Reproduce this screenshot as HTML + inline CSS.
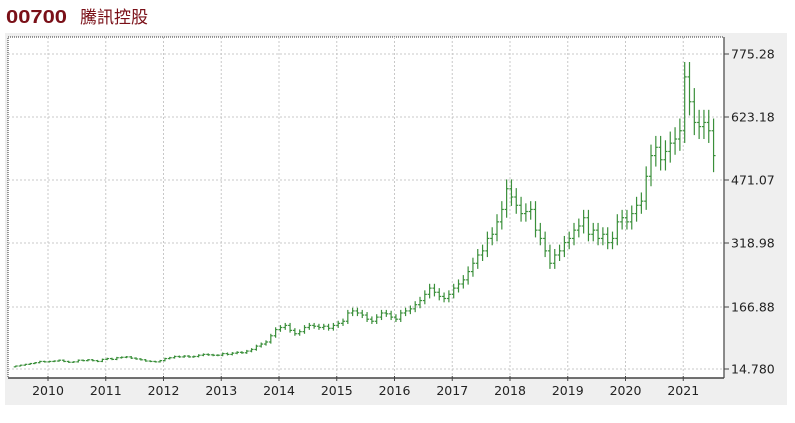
<!DOCTYPE html>
<html><head><meta charset="utf-8"><style>
body{margin:0;background:#fff;width:795px;height:418px;overflow:hidden;font-family:"Liberation Sans","Noto Sans CJK TC",sans-serif}
</style></head><body>
<svg id="s" width="795" height="418" xmlns="http://www.w3.org/2000/svg">
<text x="6" y="23" font-family="Liberation Sans, Noto Sans CJK TC, sans-serif" font-size="18" font-weight="bold" fill="#7a1018" textLength="61" lengthAdjust="spacingAndGlyphs">00700</text>
<text x="80" y="23" font-family="Noto Sans CJK TC, sans-serif" font-size="17" fill="#7a1018">騰訊控股</text>
<rect x="5" y="33" width="782" height="372" fill="#efefef"/>
<rect x="8" y="37" width="716" height="341" fill="#fff" stroke="#333" stroke-dasharray="1,1"/>
<g id="grid" stroke="#c8c8c8" stroke-dasharray="2,2" stroke-width="1"></g>
<g id="bars" stroke="#3a8f3a" stroke-width="1.2"></g>
<line x1="724" y1="37" x2="724" y2="378" stroke="#666" stroke-width="1.5"/>
<line x1="8" y1="378" x2="724" y2="378" stroke="#444" stroke-width="1.5"/>
<g id="lab" font-family="DejaVu Sans, sans-serif" font-size="12.5" fill="#222"></g>
</svg>
<script>
var ns="http://www.w3.org/2000/svg";
function el(p,t,a,txt){var e=document.createElementNS(ns,t);for(var k in a)e.setAttribute(k,a[k]);if(txt)e.textContent=txt;document.getElementById(p).appendChild(e);}
var yl=[["775.28",54],["623.18",117],["471.07",180],["318.98",243],["166.88",307],["14.780",369]];
yl.forEach(function(v){el("grid","line",{x1:8,x2:724,y1:v[1],y2:v[1]});el("lab","line",{x1:724,x2:729,y1:v[1],y2:v[1],stroke:"#444"});el("lab","text",{x:731,y:v[1]+4.5},v[0]);});
function X(t){return 48+(t-2010)*57.75;}
for(var y=2010;y<=2021;y++){var x=X(y);el("grid","line",{x1:x,x2:x,y1:37,y2:378});el("lab","line",{x1:x,x2:x,y1:376,y2:381,stroke:"#444"});el("lab","text",{x:x,y:395,"text-anchor":"middle"},""+y);}
function Y(v){return 369-(v-14.78)*63/152.1;}
var c=[22,24,26,28,30,33,
32,33,34,36,33,31,32,36,35,37,35,33,
38,40,38,42,43,44,41,39,37,34,33,32,
35,40,42,45,44,46,44,45,48,50,49,48,
48,52,50,53,55,54,58,62,70,75,80,95,
110,115,120,108,100,105,115,120,118,115,118,113,
120,125,130,150,155,150,145,135,130,140,150,148,
140,135,150,155,160,170,180,195,210,200,190,185,
195,210,220,230,250,270,290,300,330,340,370,400,
450,430,410,390,395,400,350,330,300,270,290,300,
320,330,350,360,380,340,350,330,340,320,330,370,
380,370,390,410,420,480,530,550,520,540,560,570,
590,720,660,610,600,610,590,530];
var prev=20;
c.forEach(function(v,i){var t=2009.4+(i+0.5)/12;var x=X(t);var o=prev;var hi=Math.min(Math.max(o,v)*1.05,775),lo=Math.min(o,v)*0.95;
if(i==c.length-1)lo=490;
el("bars","line",{x1:x,x2:x,y1:Y(hi),y2:Y(lo)});
el("bars","line",{x1:x-2,x2:x,y1:Y(o),y2:Y(o)});
el("bars","line",{x1:x,x2:x+2,y1:Y(v),y2:Y(v)});prev=v;});
</script>
</body></html>
